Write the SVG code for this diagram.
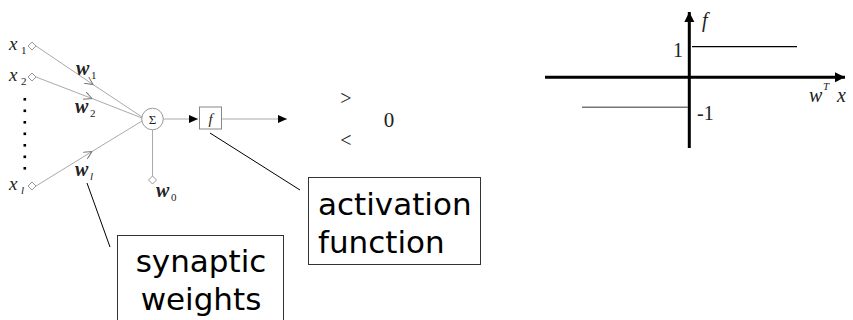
<svg xmlns="http://www.w3.org/2000/svg" width="853" height="320" viewBox="0 0 853 320">
<style>
.ser{font-family:"Liberation Serif","Times New Roman",serif;fill:#222}
.it{font-style:italic}
.san{font-family:"DejaVu Sans",Verdana,sans-serif;font-size:31px;fill:#000}
.gl{stroke:#aaa;stroke-width:1;fill:none}
.dia{stroke:#999;stroke-width:1;fill:#fff}
.box{stroke:#333;stroke-width:1;fill:#fff}
.ax{stroke:#000;stroke-width:3;fill:none}
</style>
<defs>
<marker id="ah" markerWidth="10" markerHeight="8" refX="9" refY="4" orient="auto" markerUnits="userSpaceOnUse">
<path d="M0,0 L9,4 L0,8 Z" fill="#000"/>
</marker>
<marker id="oa" markerWidth="10" markerHeight="8" refX="8" refY="4" orient="auto" markerUnits="userSpaceOnUse">
<path d="M0,0 L8,4 L0,8" fill="none" stroke="#777" stroke-width="1"/>
</marker>
<marker id="big" markerWidth="12" markerHeight="12" refX="10" refY="6" orient="auto" markerUnits="userSpaceOnUse">
<path d="M0,1 L10,6 L0,11 Z" fill="#000"/>
</marker>
</defs>

<g id="connectors">
<line class="gl" x1="36" y1="46" x2="93" y2="84.5" marker-end="url(#oa)"/>
<line class="gl" x1="93" y1="84.5" x2="142" y2="117"/>
<line class="gl" x1="36" y1="77" x2="92" y2="98.5" marker-end="url(#oa)"/>
<line class="gl" x1="92" y1="98.5" x2="142" y2="118"/>
<line class="gl" x1="36" y1="186" x2="92" y2="151.5" marker-end="url(#oa)"/>
<line class="gl" x1="92" y1="151.5" x2="142" y2="121"/>
<line class="gl" x1="152.5" y1="130" x2="152.5" y2="176"/>
<line class="gl" x1="163.5" y1="119" x2="198" y2="119" marker-end="url(#ah)"/>
<line class="gl" x1="222" y1="119" x2="287" y2="119" marker-end="url(#ah)"/>
<line x1="87" y1="183" x2="110" y2="247" stroke="#000" stroke-width="1"/>
<line x1="210" y1="133" x2="300" y2="190" stroke="#000" stroke-width="1"/>
</g>

<g id="x1">
<path class="dia" d="M32,42 L36,46 L32,50 L28,46 Z"/>
<text class="ser it" x="9" y="50" font-size="19">x</text>
<text class="ser" x="21" y="54" font-size="11">1</text>
</g>
<g id="x2">
<path class="dia" d="M32,73 L36,77 L32,81 L28,77 Z"/>
<text class="ser it" x="9" y="81" font-size="19">x</text>
<text class="ser" x="21" y="85" font-size="11">2</text>
</g>
<g id="dots" fill="#000">
<rect x="23.5" y="98" width="2.6" height="2.6"/>
<rect x="23.5" y="109.5" width="2.6" height="2.6"/>
<rect x="23.5" y="121" width="2.6" height="2.6"/>
<rect x="23.5" y="132.5" width="2.6" height="2.6"/>
<rect x="23.5" y="144" width="2.6" height="2.6"/>
<rect x="23.5" y="155.5" width="2.6" height="2.6"/>
<rect x="23.5" y="167" width="2.6" height="2.6"/>
</g>
<g id="xl">
<path class="dia" d="M32,182 L36,186 L32,190 L28,186 Z"/>
<text class="ser it" x="9" y="190" font-size="19">x</text>
<text class="ser it" x="21" y="194" font-size="11">l</text>
</g>
<g id="w1">
<text class="ser it" x="76" y="75" font-size="20" font-weight="bold">w</text>
<text class="ser" x="91" y="79" font-size="11">1</text>
</g>
<g id="w2">
<text class="ser it" x="75" y="113" font-size="20" font-weight="bold">w</text>
<text class="ser" x="90" y="117" font-size="11">2</text>
</g>
<g id="wl">
<text class="ser it" x="75" y="176" font-size="20" font-weight="bold">w</text>
<text class="ser it" x="90" y="180" font-size="11">l</text>
</g>
<g id="sum">
<circle cx="152.5" cy="119" r="10.8" stroke="#999" stroke-width="1" fill="#fff"/>
<text class="ser" x="152.5" y="123.5" font-size="13" text-anchor="middle">Σ</text>
</g>
<g id="w0">
<path class="dia" d="M152.5,176 L156.5,180 L152.5,184 L148.5,180 Z"/>
<text class="ser it" x="156" y="197" font-size="20" font-weight="bold">w</text>
<text class="ser" x="171" y="201" font-size="11">0</text>
</g>
<g id="fbox">
<rect x="199.5" y="107" width="22" height="22" stroke="#888" stroke-width="1" fill="#fff"/>
<text class="ser it" x="210.5" y="123.5" font-size="15" text-anchor="middle">f</text>
</g>
<g id="compare">
<text class="ser" x="346" y="105" font-size="20" text-anchor="middle">&gt;</text>
<text class="ser" x="346" y="147" font-size="20" text-anchor="middle">&lt;</text>
<text class="ser" x="389" y="127" font-size="21" text-anchor="middle">0</text>
</g>
<g id="synaptic">
<rect class="box" x="117.5" y="235.5" width="166" height="100"/>
<text class="san" x="201" y="272" text-anchor="middle">synaptic</text>
<text class="san" x="201" y="310" text-anchor="middle">weights</text>
</g>
<g id="activation">
<rect class="box" x="308.5" y="177.5" width="172" height="87"/>
<text class="san" x="318" y="215">activation</text>
<text class="san" x="318" y="253">function</text>
</g>
<g id="plot">
<line class="ax" x1="545" y1="77.3" x2="845" y2="77.3" marker-end="url(#big)"/>
<line class="ax" x1="689.3" y1="148" x2="689.3" y2="12" marker-end="url(#big)"/>
<line x1="692" y1="46.7" x2="797" y2="46.7" stroke="#000" stroke-width="1.3"/>
<line x1="582" y1="107.3" x2="688" y2="107.3" stroke="#777" stroke-width="1.5"/>
<text class="ser it" x="702" y="27" font-size="20">f</text>
<text class="ser" x="683" y="57" font-size="20" text-anchor="end">1</text>
<text class="ser" x="697" y="120" font-size="20">-1</text>
<text class="ser it" x="809" y="102" font-size="20">w</text>
<text class="ser it" x="823" y="90" font-size="11">T</text>
<text class="ser it" x="837" y="102" font-size="20">x</text>
</g>
</svg>
